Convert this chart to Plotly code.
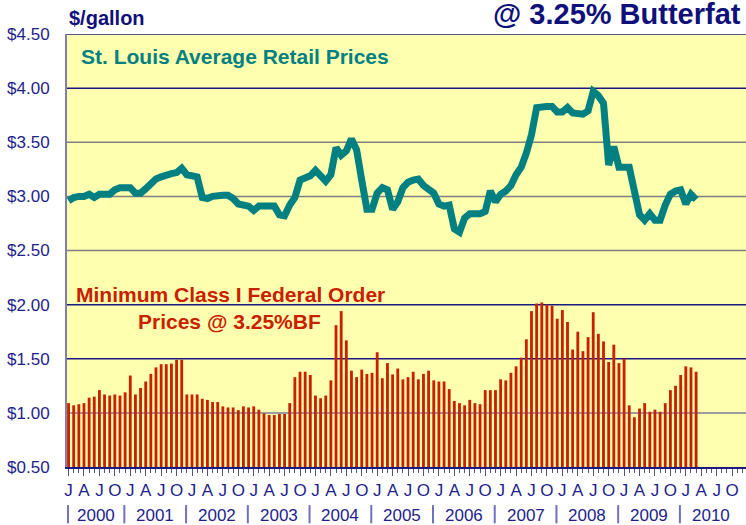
import plotly.graph_objects as go

# ---- data (monthly, Jan 2000 .. Mar 2010) ----
years = [str(y) for y in range(2000, 2011)]
month_letters = ["J", "A", "J", "O"]

class1_prices = [
    1.09, 1.07, 1.08, 1.09, 1.14, 1.15, 1.21, 1.17, 1.16, 1.17, 1.16, 1.19,   # 2000
    1.345, 1.17, 1.23, 1.29, 1.36, 1.42, 1.45, 1.45, 1.455, 1.49, 1.49, 1.17,  # 2001
    1.17, 1.17, 1.13, 1.12, 1.10, 1.10, 1.06, 1.05, 1.05, 1.025, 1.06, 1.05,  # 2002
    1.06, 1.03, 0.995, 0.98, 0.98, 0.99, 0.99, 1.09, 1.33, 1.38, 1.38, 1.35,  # 2003
    1.16, 1.135, 1.16, 1.30, 1.81, 1.94, 1.67, 1.39, 1.33, 1.40, 1.36, 1.37,  # 2004
    1.56, 1.32, 1.46, 1.355, 1.41, 1.31, 1.33, 1.38, 1.31, 1.36, 1.39, 1.30,  # 2005
    1.29, 1.29, 1.22, 1.11, 1.09, 1.07, 1.12, 1.09, 1.08, 1.21, 1.21, 1.21,   # 2006
    1.31, 1.30, 1.37, 1.43, 1.51, 1.68, 1.94, 2.01, 2.02, 2.00, 1.99, 1.87,   # 2007
    1.95, 1.84, 1.585, 1.75, 1.57, 1.70, 1.93, 1.73, 1.66, 1.47, 1.63, 1.46,  # 2008
    1.50, 1.07, 0.96, 1.04, 1.09, 1.01, 1.03, 1.01, 1.09, 1.21, 1.25, 1.35,   # 2009
    1.43, 1.42, 1.38,                                                          # 2010
]

retail_prices = [
    2.96, 2.99, 3.00, 3.00, 3.02, 2.99, 3.02, 3.02, 3.02, 3.06, 3.08, 3.08,   # 2000
    3.08, 3.03, 3.03, 3.07, 3.12, 3.16, 3.18, 3.20, 3.21, 3.22, 3.26, 3.20,   # 2001
    3.19, 3.18, 2.99, 2.98, 3.00, 3.01, 3.01, 3.01, 2.98, 2.93, 2.92, 2.91,   # 2002
    2.87, 2.91, 2.91, 2.91, 2.91, 2.83, 2.82, 2.92, 2.99, 3.15, 3.17, 3.19,   # 2003
    3.24, 3.19, 3.14, 3.20, 3.45, 3.38, 3.42, 3.53, 3.43, 3.15, 2.88, 2.88,   # 2004
    3.03, 3.08, 3.06, 2.88, 2.95, 3.08, 3.13, 3.15, 3.16, 3.10, 3.07, 3.03,   # 2005
    2.93, 2.91, 2.92, 2.70, 2.67, 2.80, 2.84, 2.84, 2.84, 2.86, 3.05, 2.95,   # 2006
    3.02, 3.05, 3.10, 3.20, 3.27, 3.40, 3.57, 3.82, 3.83, 3.83, 3.83, 3.78,   # 2007
    3.78, 3.82, 3.77, 3.76, 3.76, 3.79, 3.97, 3.93, 3.86, 3.29, 3.46, 3.27,   # 2008
    3.27, 3.27, 3.05, 2.83, 2.78, 2.84, 2.78, 2.78, 2.92, 3.02, 3.05, 3.06,   # 2009
    2.93, 3.02, 2.97,                                                          # 2010
]

y_ticks = [0.5, 1.0, 1.5, 2.0, 2.5, 3.0, 3.5, 4.0, 4.5]

# ---- styling ----
NAVY = "#1E1E8C"
TEAL = "#008080"
RED = "#C82000"
FONT = "Liberation Sans, Arial, sans-serif"

n_months = len(years) * 12
idx_bars = list(range(len(class1_prices)))
idx_line = list(range(len(retail_prices)))

fig = go.Figure()
fig.add_trace(go.Bar(x=idx_bars, y=class1_prices, marker=dict(color=RED, line=dict(width=0)),
                     base=0, showlegend=False))
fig.add_trace(go.Scatter(x=idx_line, y=retail_prices, mode="lines",
                         line=dict(color=TEAL, width=7), showlegend=False))

# gridlines (mixed navy / grey as in the original)
grid_colors = {1.0: "#7C7CA0", 1.5: "#1A1A80", 2.0: "#1A1A80", 2.5: "#808080",
               3.0: "#808080", 3.5: "#808080", 4.0: "#1A1A80", 4.5: "#1A1A80"}
shapes = []
for v in y_ticks[1:]:
    shapes.append(dict(type="line", xref="paper", x0=0, x1=1, yref="y", y0=v, y1=v,
                       line=dict(color=grid_colors[v], width=1.5), layer="below"))

# year separators and year labels below the axis
annotations = []
seps = [-0.1] + [12 * k - 1.15 for k in range(1, len(years))] + [n_months - 1.15]
for k, yr in enumerate(years):
    shapes.append(dict(type="line", xref="x", x0=seps[k], x1=seps[k], yref="paper",
                       y0=-0.088, y1=-0.13, line=dict(color="#7070C0", width=2)))
    annotations.append(dict(x=(seps[k] + seps[k + 1]) / 2, y=-0.111, xref="x", yref="paper",
                            text=yr, showarrow=False, xanchor="center", yanchor="middle",
                            font=dict(family=FONT, size=17, color=NAVY)))

annotations += [
    dict(x=0.0, y=1.037, xref="paper", yref="paper", text="<b>$/gallon</b>", showarrow=False,
         xanchor="left", yanchor="middle", font=dict(family=FONT, size=20, color="#10107A")),
    dict(x=0.9956, y=1.047, xref="paper", yref="paper", text="<b>@ 3.25% Butterfat</b>",
         showarrow=False, xanchor="right", yanchor="middle",
         font=dict(family=FONT, size=29, color="#10107A")),
    dict(x=0.0177, y=0.949, xref="paper", yref="paper", text="<b>St. Louis Average Retail Prices</b>",
         showarrow=False, xanchor="left", yanchor="middle", font=dict(family=FONT, size=21, color=TEAL)),
    dict(x=0.0103, y=0.3995, xref="paper", yref="paper", text="<b>Minimum Class I Federal Order</b>",
         showarrow=False, xanchor="left", yanchor="middle", font=dict(family=FONT, size=21, color=RED)),
    dict(x=0.2386, y=0.335, xref="paper", yref="paper", text="<b>Prices @ 3.25%BF</b>",
         showarrow=False, xanchor="center", yanchor="middle", font=dict(family=FONT, size=21, color=RED)),
]

tickvals = list(range(0, n_months, 3))
ticktext = month_letters * len(years)

fig.update_layout(
    width=746, height=525,
    margin=dict(l=67, r=0, t=34, b=58),
    paper_bgcolor="white",
    plot_bgcolor="#FFFFB0",
    bargap=0.45,
    shapes=shapes,
    annotations=annotations,
    font=dict(family=FONT, color=NAVY),
)
fig.update_xaxes(
    range=[-0.3, n_months - 0.3], tickmode="array", tickvals=tickvals, ticktext=ticktext,
    ticks="outside", ticklen=7, tickwidth=1, tickcolor="#555577",
    minor=dict(tickmode="linear", tick0=0, dtick=1, ticks="outside", ticklen=4, tickcolor="#555577"),
    showgrid=False, zeroline=False, showline=True, linecolor="#1A1A80", linewidth=2,
    tickfont=dict(family=FONT, size=17, color=NAVY), fixedrange=True,
)
fig.update_yaxes(
    range=[0.5, 4.5], tickmode="array", tickvals=y_ticks,
    ticktext=[f"${v:.2f}" for v in y_ticks],
    showgrid=False, zeroline=False, showline=True, linecolor="#8080B0", linewidth=2,
    ticks="", ticklabelstandoff=12,
    tickfont=dict(family=FONT, size=17, color=NAVY), fixedrange=True,
)

fig.write_html("out.html", config={"displayModeBar": False},
               post_script="document.body.style.margin='0';document.body.style.overflow='hidden';")
